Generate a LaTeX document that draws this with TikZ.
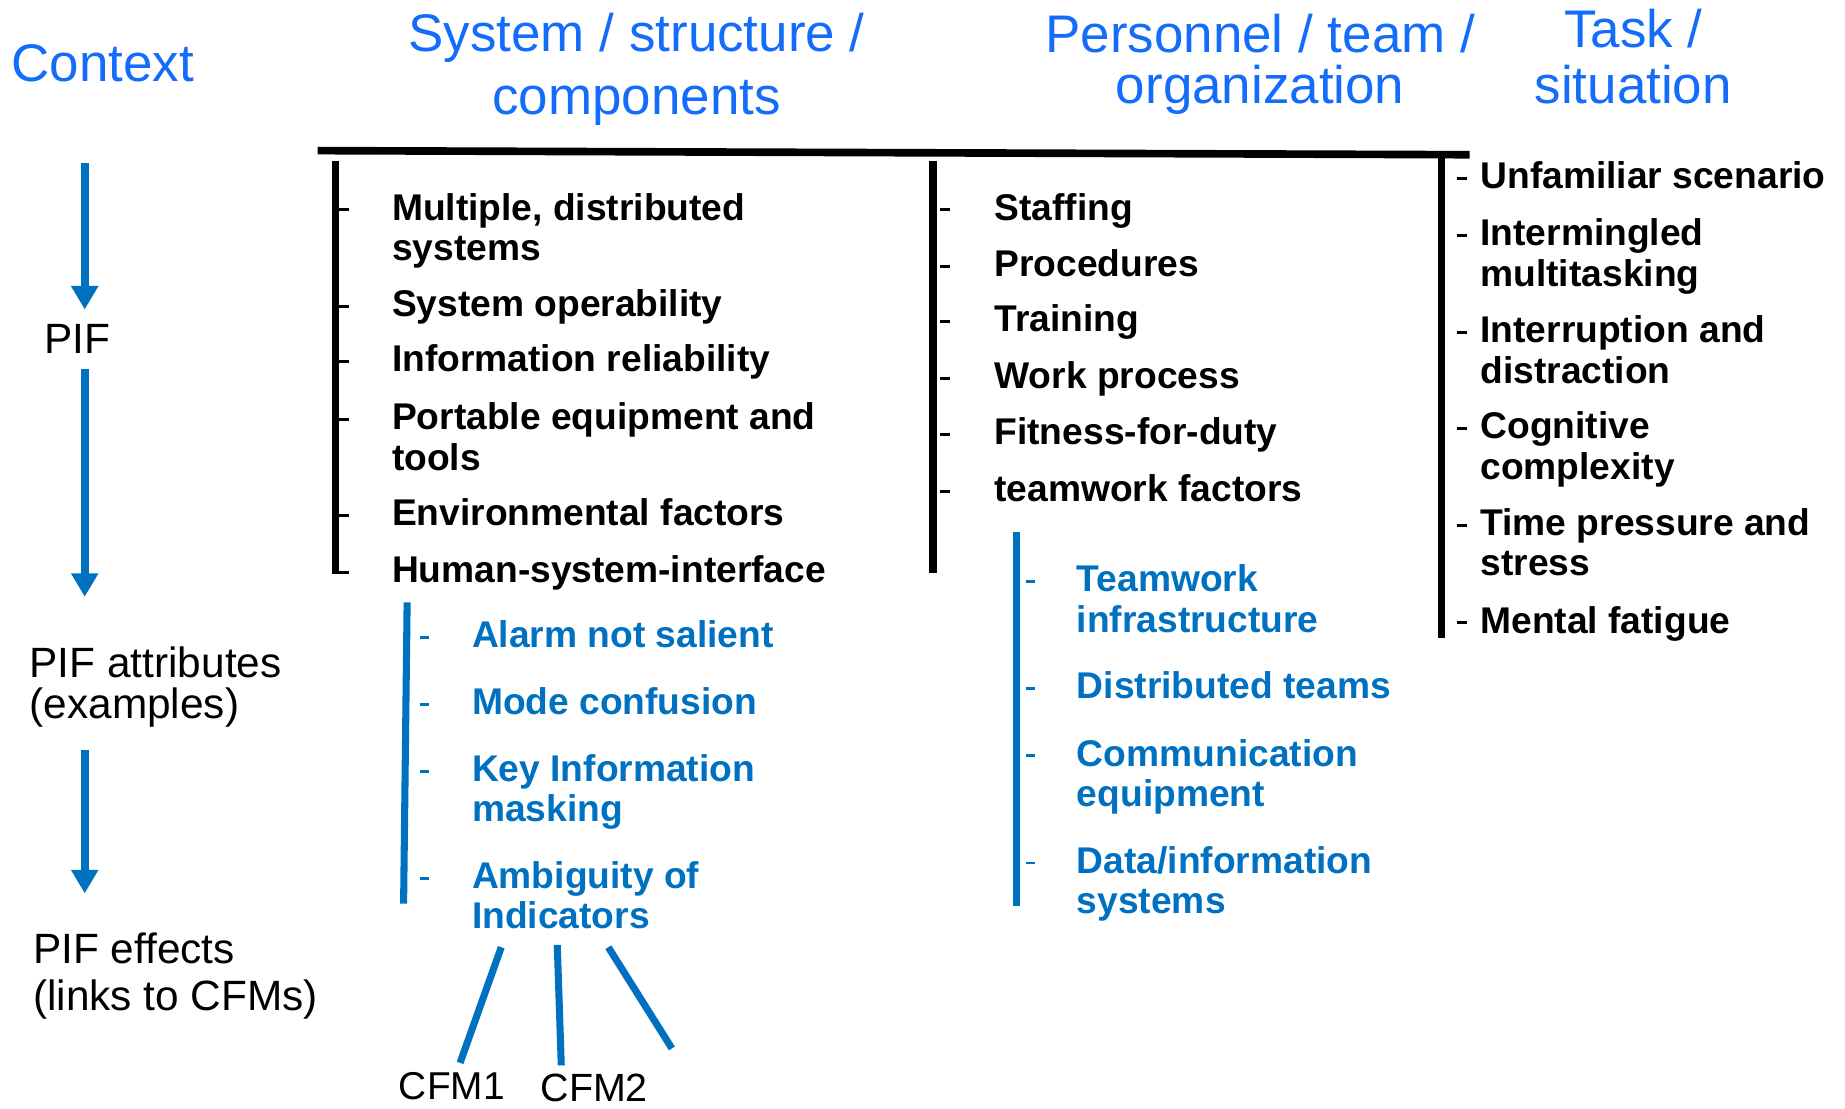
\documentclass[tikz,border=0pt]{standalone}
\usepackage{fontspec}
\setmainfont{Liberation Sans}
\usetikzlibrary{arrows.meta}
\definecolor{headblue}{RGB}{20,108,250}
\definecolor{pifblue}{RGB}{0,112,192}
\tikzset{
     header/.style = { text=headblue, align=center, anchor=base, inner sep=0pt,
                       font=\fontsize{45}{#1}\selectfont },
      stage/.style = { align=left, anchor=base west, inner sep=0pt,
                       font=\fontsize{36}{#1}\selectfont },
       item/.style = { align=left, anchor=base west, inner sep=0pt,
                       font=\fontsize{31.6}{34.5}\selectfont\bfseries },
       attr/.style = { item, text=pifblue },
   cfmlabel/.style = { anchor=base, inner sep=0pt, font=\fontsize{#1}{#1}\selectfont },
     colbar/.style = { line width=6.5pt },
   itemtick/.style = { line width=2.5pt },
    attrbar/.style = { line width=6pt, color=pifblue },
   attrtick/.style = { line width=2.5pt, color=pifblue },
       flow/.style = { line width=7pt, color=pifblue, -{Triangle[width=22pt,length=20pt]} },
    cfmlink/.style = { line width=6pt, color=pifblue }
}

\begin{document}
\begin{tikzpicture}[x=1pt, y=-1pt]
  \useasboundingbox (0,0) rectangle (1568,942);

  % headers (multi-line nodes sit on their last baseline)
  \node[header=50] (ctx)  at (87.5,69) {Context};
  \node[header=53] (sys)  at (541,97)  {System / structure /\\components};
  \node[header=43] (pers) at (1071,88) {Personnel / team /\\organization};
  \node[header=48] (task) at (1388,88) {Task /\\situation};

  % left column: PIF -> attributes -> effects
  \node[stage=35] (pif)     at (37.5,300)  {PIF};
  \node[stage=35] (pifattr) at (25,610.5)  {PIF attributes\\(examples)};
  \node[stage=40] (pifeff)  at (28,858.5)  {PIF effects\\(links to CFMs)};

  \coordinate (fx) at (72,0);
  \draw[flow, shorten <=69pt, shorten >=12pt] (ctx.south -| fx) -- (pif.north -| fx);
  \draw[flow, shorten <=13pt, shorten >=42pt] (pif.south -| fx) -- (pifattr.north -| fx);
  \draw[flow, shorten <=19pt, shorten >=33pt] (pifattr.south -| fx) -- (pifeff.north -| fx);

  % top rule and column bars
  \draw[colbar] (270,128) -- (1249,131.5);
  \coordinate (b1) at (285,0);
  \coordinate (b2) at (793,0);
  \coordinate (b3) at (1225,0);
  \draw[colbar] (b1 |- 0,137) -- (b1 |- 0,488);
  \draw[colbar] (b2 |- 0,137) -- (b2 |- 0,487);
  \draw[colbar] (b3 |- 0,131) -- (b3 |- 0,542);

  % system / structure / components
  \node[item] (mult) at (333,221.5) {Multiple, distributed\\systems};
  \node[item] (oper) at (333,269)   {System operability};
  \node[item] (rel)  at (333,316)   {Information reliability};
  \node[item] (port) at (333,399.5) {Portable equipment and\\tools};
  \node[item] (env)  at (333,447)   {Environmental factors};
  \node[item] (hsi)  at (333,495)   {Human-system-interface};

  % personnel / team / organization
  \node[item] (staff) at (845,187) {Staffing};
  \node[item] (proc)  at (845,235) {Procedures};
  \node[item] (train) at (845,282) {Training};
  \node[item] (work)  at (845,330) {Work process};
  \node[item] (fit)   at (845,378) {Fitness-for-duty};
  \node[item] (team)  at (845,426) {teamwork factors};

  % task / situation
  \node[item] (unfam)  at (1258,160)   {Unfamiliar scenario};
  \node[item] (mingle) at (1258,243.5) {Intermingled\\multitasking};
  \node[item] (interr) at (1258,325.5) {Interruption and\\distraction};
  \node[item] (cogn)   at (1258,407.5) {Cognitive\\complexity};
  \node[item] (press)  at (1258,489.5) {Time pressure and\\stress};
  \node[item] (fatig)  at (1258,538)   {Mental fatigue};

  \foreach \n in {mult,oper,rel,port,env,hsi}
    \draw[itemtick] (b1 |- \n.north) ++(0,14.5) -- ++(12,0);
  \foreach \n in {staff,proc,train,work,fit,team}
    \draw[itemtick] (b2 |- \n.north) ++(6,14.5) -- ++(8,0);
  \foreach \n in {unfam,mingle,interr,cogn,press,fatig}
    \draw[itemtick] (b3 |- \n.north) ++(13,14.5) -- ++(9,0);

  % attributes of human-system-interface
  \node[attr] (alarm) at (401,550)   {Alarm not salient};
  \node[attr] (mode)  at (401,607)   {Mode confusion};
  \node[attr] (mask)  at (401,698.5) {Key Information\\masking};
  \node[attr] (amb)   at (401,789.5) {Ambiguity of\\Indicators};
  \draw[attrbar] (346,512) -- (343,768);
  \coordinate (a1) at (345,0);
  \foreach \n in {alarm,mode,mask,amb}
    \draw[attrtick] (a1 |- \n.north) ++(12,14.5) -- ++(8,0);

  % attributes of teamwork factors
  \node[attr] (twinf) at (915,537.5) {Teamwork\\infrastructure};
  \node[attr] (dist)  at (915,594)   {Distributed teams};
  \node[attr] (comm)  at (915,685.5) {Communication\\equipment};
  \node[attr] (data)  at (915,776.5) {Data/information\\systems};
  \coordinate (a2) at (864,0);
  \draw[attrbar] (a2 |- 0,452) -- (a2 |- 0,770);
  \foreach \n in {twinf,dist,comm,data}
    \draw[attrtick] (a2 |- \n.north) ++(8,14.5) -- ++(8,0);

  % effects: links to CFMs
  \node[cfmlabel=33]   (cfm1) at (384,934.5) {CFM1};
  \node[cfmlabel=33.5] (cfm2) at (505,936) {CFM2};
  \draw[cfmlink] ([xshift=25pt,yshift=-15pt]amb.south west) -- ([xshift=7pt,yshift=8pt]cfm1.north);
  \draw[cfmlink] ([xshift=72.6pt,yshift=-13pt]amb.south west) -- ([xshift=-28pt,yshift=7pt]cfm2.north);
  \draw[cfmlink] ([xshift=116pt,yshift=-15pt]amb.south west) -- ++(54,86) coordinate (cfm3end);
\end{tikzpicture}
\end{document}
